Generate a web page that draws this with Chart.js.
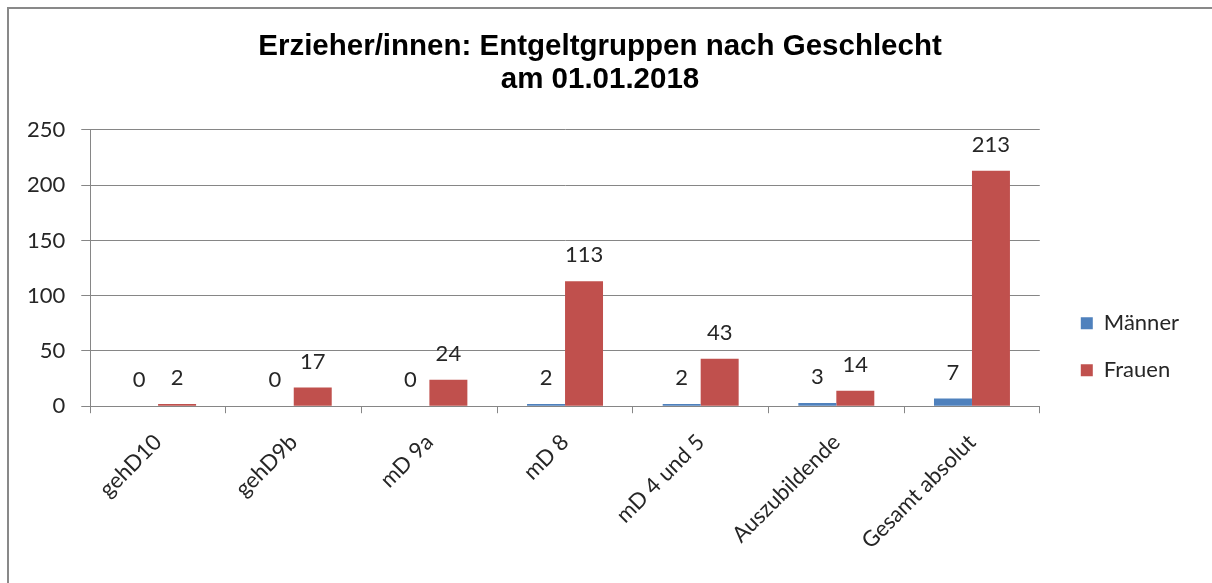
<!DOCTYPE html>
<html>
<head>
<meta charset="utf-8">
<script src="https://cdn.jsdelivr.net/npm/chart.js@4"></script>
<style>
  html, body { margin: 0; padding: 0; background: #fff; overflow: hidden; }
  #wrap { position: relative; width: 1212px; height: 583px; }
  #frame { position: absolute; left: 7px; top: 7px; width: 1300px; height: 700px;
           border: 2px solid #898989; pointer-events: none; }
</style>
</head>
<body>
<div id="wrap">
  <canvas id="myChart" width="1212" height="583"></canvas>
  <div id="frame"></div>
</div>
<script>
var categories = ['gehD10', 'gehD9b', 'mD 9a', 'mD 8', 'mD 4 und 5', 'Auszubildende', 'Gesamt absolut'];
var maenner = [0, 0, 0, 2, 2, 3, 7];
var frauen = [2, 17, 24, 113, 43, 14, 213];
var yTicks = [0, 50, 100, 150, 200, 250];

var labelFont = 'Lato, "Open Sans", sans-serif';

// value labels above each bar
var valueLabels = {
  id: 'valueLabels',
  afterDatasetsDraw: function (chart) {
    var ctx = chart.ctx;
    ctx.save();
    ctx.font = '22px ' + labelFont;
    ctx.fillStyle = '#262626';
    ctx.textAlign = 'center';
    ctx.textBaseline = 'middle';
    chart.data.datasets.forEach(function (ds, i) {
      var meta = chart.getDatasetMeta(i);
      meta.data.forEach(function (bar, j) {
        ctx.fillText(String(ds.data[j]), bar.x, bar.y - 26);
      });
    });
    ctx.restore();
  }
};

(function () {
  var ctx = document.getElementById('myChart');

  var myChart = new Chart(ctx, {
    type: 'bar',
    data: {
      labels: categories,
      datasets: [{
        label: 'Männer',
        data: maenner,
        backgroundColor: '#4F81BD',
        borderWidth: 0
      },
      {
        label: 'Frauen',
        data: frauen,
        backgroundColor: '#C0504D',
        borderWidth: 0
      }]
    },
    options: {
      responsive: false,
      animation: false,
      layout: {
        padding: { left: 11, right: 23, top: 0, bottom: 13 }
      },
      datasets: {
        bar: { categoryPercentage: 0.56, barPercentage: 1 }
      },
      scales: {
        x: {
          grid: { drawOnChartArea: false, color: '#868686', tickLength: 7 },
          border: { color: '#868686' },
          ticks: {
            minRotation: 45, maxRotation: 45,
            padding: 16,
            color: '#262626',
            font: { family: labelFont, size: 22 }
          }
        },
        y: {
          min: 0, max: 250,
          afterBuildTicks: function (axis) {
            axis.ticks = yTicks.map(function (v) { return { value: v }; });
          },
          grid: { color: '#868686', tickLength: 9 },
          border: { color: '#868686' },
          ticks: {
            padding: 16,
            color: '#262626',
            font: { family: labelFont, size: 22 }
          }
        },
        // empty gap between plot and legend
        gap: {
          type: 'linear',
          position: 'right',
          grid: { display: false },
          border: { display: false },
          ticks: { display: false },
          afterFit: function (scale) { scale.width = 16; }
        }
      },
      plugins: {
        title: {
          display: true,
          text: ['Erzieher/innen: Entgeltgruppen nach Geschlecht', 'am 01.01.2018'],
          color: '#000',
          font: { family: '"Liberation Sans", Arial, sans-serif', size: 29.5, weight: 'bold', lineHeight: 1.12 },
          padding: { top: 30.5, bottom: 33.4 }
        },
        legend: {
          position: 'right',
          align: 'end',
          fullSize: false,
          labels: {
            boxWidth: 12, boxHeight: 12,
            padding: 25,
            color: '#262626',
            font: { family: labelFont, size: 22 }
          }
        },
        tooltip: { enabled: false }
      }
    },
    plugins: [valueLabels]
  });
}());
</script>
</body>
</html>
